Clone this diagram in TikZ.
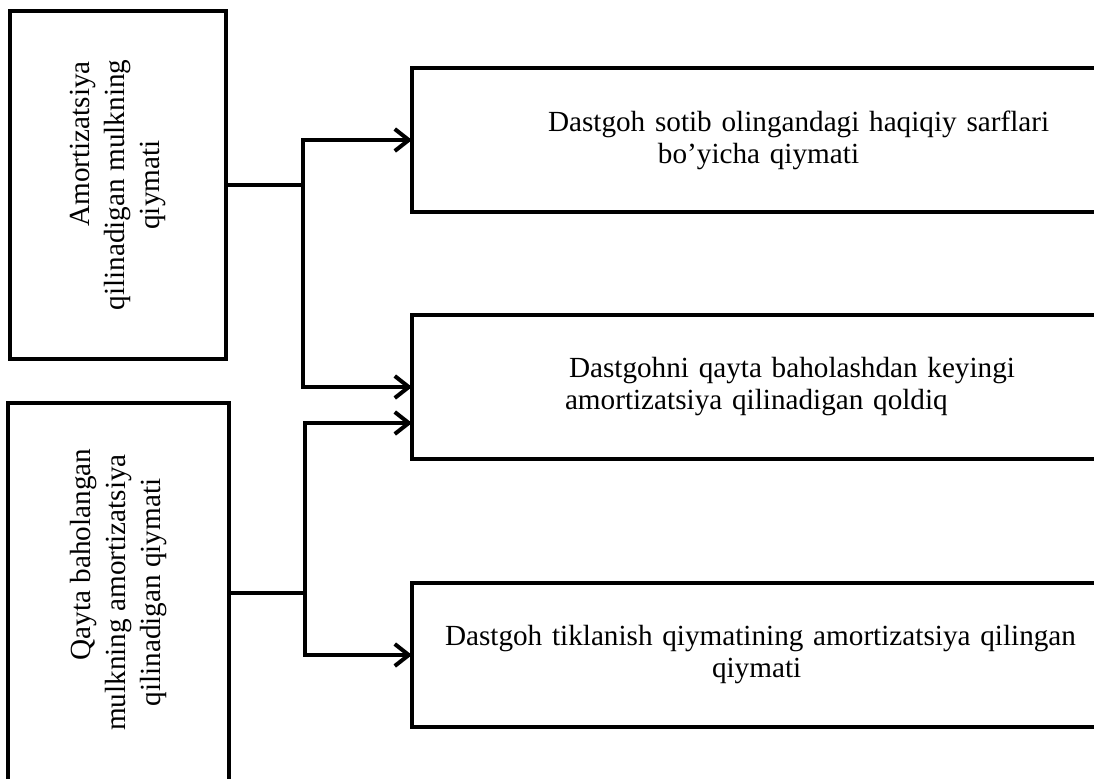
\documentclass[tikz,border=0pt]{standalone}
\usepackage{fontspec}
\setmainfont{Liberation Serif}
\usetikzlibrary{arrows.meta}

\begin{document}
\begin{tikzpicture}[
    x=0.5pt, y=-0.5pt,
    box/.style={draw, line width=2.3pt, outer sep=0pt},
    side box/.style={box, rotate=90, align=center, inner sep=0pt,
        font=\fontsize{14.6}{17.5}\selectfont},
    item box/.style={box, text width=350pt, minimum height=72pt, inner sep=0pt,
        align=left, font=\fontsize{14.6}{16}\selectfont},
    plain line/.style={line width=2pt},
    normal line/.style={plain line, -{Straight Barb[length=7pt,width=11pt]}},
    elbow/.style={to path={|- (\tikztotarget)}},
    node distance=3cm,
]
\useasboundingbox (0,0) rectangle (1094,778);
\node[side box, minimum width=174pt, minimum height=108pt] (l-1) at (118,185)
    {\hspace*{41pt}Amortizatsiya\\qilinadigan mulkning\\qiymati};
\node[side box, minimum width=189.5pt, minimum height=110.5pt] (l-2) at (118.5,592.5)
    {\hspace*{38pt}Qayta baholangan\\mulkning amortizatsiya\\qilinadigan qiymati};
\node[item box, anchor=west] (r-1) at (412,140)
    {\hspace*{68pt}Dastgoh sotib olingandagi haqiqiy sarflari\\\hspace*{123pt}bo’yicha qiymati};
\node[item box, below of=r-1, node distance=123.5pt] (r-2)
    {\hspace*{78.5pt}Dastgohni qayta baholashdan keyingi\\\hspace*{76.5pt}amortizatsiya qilinadigan qoldiq};
\node[item box, below of=r-2, node distance=134pt] (r-3)
    {\hspace*{16.5pt}Dastgoh tiklanish qiymatining amortizatsiya qilingan\\\hspace*{150pt}qiymati};
\coordinate (j-1) at ([xshift=38.5pt]l-1.south);
\coordinate (j-2) at ([xshift=38pt]l-2.south);
\path[plain line]
    (l-1.south) edge (j-1)
    (l-2.south) edge (j-2);
\path[normal line]
    (j-1) edge[elbow] (r-1.west)
    (j-1) edge[elbow] (r-2.west)
    (j-2) edge[elbow] ([yshift=-18pt]r-2.west)
    (j-2) edge[elbow] (r-3.west);
\end{tikzpicture}
\end{document}
